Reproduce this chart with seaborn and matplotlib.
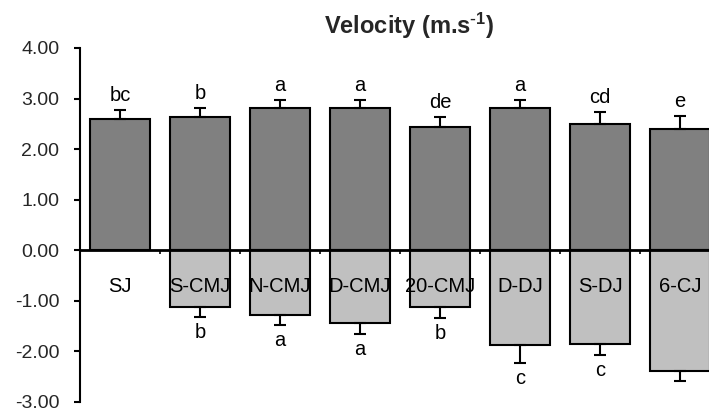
import matplotlib
matplotlib.use("Agg")
import matplotlib.pyplot as plt
import seaborn as sns
import numpy as np
import pandas as pd

categories = ["SJ", "S-CMJ", "N-CMJ", "D-CMJ", "20-CMJ", "D-DJ", "S-DJ", "6-CJ"]
pos_values = [2.59, 2.63, 2.81, 2.81, 2.43, 2.81, 2.50, 2.39]
pos_err = [0.19, 0.18, 0.17, 0.17, 0.20, 0.17, 0.23, 0.26]
neg_values = [np.nan, -1.12, -1.28, -1.43, -1.12, -1.88, -1.85, -2.39]
neg_err = [0.0, 0.19, 0.19, 0.22, 0.22, 0.35, 0.22, 0.19]
pos_letters = ["bc", "b", "a", "a", "de", "a", "cd", "e"]
neg_letters = ["", "b", "a", "a", "b", "c", "c", ""]
ytick_vals = [-3, -2, -1, 0, 1, 2, 3, 4]

sns.set_theme(style="white")
plt.rcParams['font.family'] = ['Liberation Sans', 'DejaVu Sans']
plt.rcParams['mathtext.default'] = 'regular'

fig = plt.figure(figsize=(7.09, 4.12), dpi=100)
W, H = 709, 412
ax = fig.add_axes([80 / W, 1 - 402 / H, (709 - 80) / W, (402 - 48) / H])

df_pos = pd.DataFrame({"cat": categories, "val": pos_values})
df_neg = pd.DataFrame({"cat": categories, "val": neg_values})

sns.barplot(data=df_pos, x="cat", y="val", order=categories, color="#808080",
            saturation=1, width=0.74, edgecolor="black", linewidth=1.5, ax=ax, errorbar=None)
sns.barplot(data=df_neg, x="cat", y="val", order=categories, color="#C0C0C0",
            saturation=1, width=0.74, edgecolor="black", linewidth=1.5, ax=ax, errorbar=None)

x = np.arange(len(categories))
ax.errorbar(x, pos_values, yerr=[np.zeros(len(x)), pos_err], fmt="none",
            ecolor="black", elinewidth=1.5, capsize=4, capthick=1.5, zorder=3)
negv = np.array(neg_values, dtype=float)
ax.errorbar(x, negv, yerr=[neg_err, np.zeros(len(x))], fmt="none",
            ecolor="black", elinewidth=1.5, capsize=4, capthick=1.5, zorder=3)

for i in range(len(categories)):
    ax.text(x[i], pos_values[i] + pos_err[i] + 0.10, pos_letters[i], ha="center",
            va="bottom", fontsize=14.5, color="black")
    if neg_letters[i] and not np.isnan(negv[i]):
        ax.text(x[i], negv[i] - neg_err[i] - 0.12, neg_letters[i], ha="center",
                va="top", fontsize=14.5, color="black")
    ax.text(x[i], -0.71, categories[i], ha="center", va="center", fontsize=14.5,
            color="black", zorder=4)

ax.set_ylim(-3, 4)
ax.set_xlim(-0.5, 7.5 - 11 / 80)
ax.set_yticks(ytick_vals)
ax.set_yticklabels([f"{v:.2f}" for v in ytick_vals], fontsize=14)
ax.set_xticks(np.arange(0.5, 7, 1))
ax.set_xticklabels([])
ax.set_xlabel("")
ax.set_ylabel("")

for s in ["top", "right"]:
    ax.spines[s].set_visible(False)
ax.spines["left"].set_linewidth(1.5)
ax.spines["left"].set_color("black")
ax.spines["bottom"].set_position(("data", 0))
ax.spines["bottom"].set_linewidth(2)
ax.spines["bottom"].set_color("black")
ax.spines["bottom"].set_zorder(5)
ax.tick_params(axis="y", direction="out", length=4, width=1.5, color="black", left=True, pad=11)
ax.tick_params(axis="x", direction="out", length=3, width=1.2, color="black", bottom=True)

fig.text(409 / W, 1 - 26 / H, r"Velocity (m.s$^{\text{-}1}$)", ha="center", va="center",
         fontsize=17, fontweight="bold")

fig.savefig("out.png", dpi=100)
